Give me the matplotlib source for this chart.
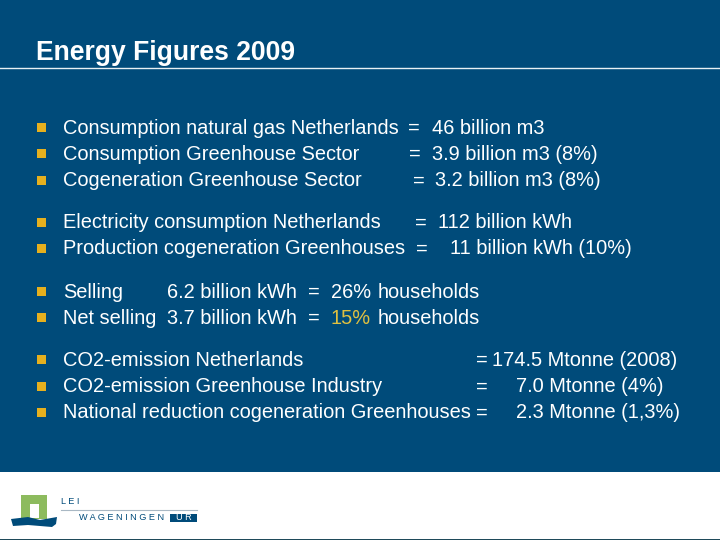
import matplotlib
matplotlib.use("Agg")
import matplotlib.pyplot as plt
from matplotlib.patches import Rectangle, Polygon

plt.rcParams['font.family'] = ['Liberation Sans', 'DejaVu Sans']

TITLE = "Energy Figures 2009"
LINES = [
    [("Consumption natural gas Netherlands", 63), ("=", 408), ("46 billion m3", 432)],
    [("Consumption Greenhouse Sector", 63), ("=", 409), ("3.9 billion m3 (8%)", 432)],
    [("Cogeneration Greenhouse Sector", 63), ("=", 413), ("3.2 billion m3 (8%)", 435)],
    [("Electricity consumption Netherlands", 63), ("=", 415), ("112 billion kWh", 438)],
    [("Production cogeneration Greenhouses", 63), ("=", 416), ("11 billion kWh (10%)", 450)],
    [("Selling", 63), ("6.2 billion kWh", 167), ("=", 308), ("26%", 331), ("households", 378)],
    [("Net selling", 63), ("3.7 billion kWh", 167), ("=", 308), ("15%", 331), ("households", 378)],
    [("CO2-emission Netherlands", 63), ("=", 476), ("174.5 Mtonne (2008)", 492)],
    [("CO2-emission Greenhouse Industry", 63), ("=", 476), ("7.0 Mtonne (4%)", 516)],
    [("National reduction cogeneration Greenhouses", 63), ("=", 476), ("2.3 Mtonne (1,3%)", 516)],
]
LINE_Y = [127, 153, 180, 222, 248, 291, 317, 359, 386, 412]
HIGHLIGHT = "15%"
LOGO_TOP = "LEI"
LOGO_MID = "WAGENINGEN"
LOGO_UR = "UR"

NAVY = "#004b7a"
GOLD = "#e6b01e"
fig = plt.figure(figsize=(7.2, 5.4), dpi=100, facecolor="white")
ax = fig.add_axes([0, 0, 1, 1])
ax.set_xlim(0, 720)
ax.set_ylim(540, 0)
ax.axis("off")

ax.add_patch(Rectangle((0, 0), 720, 472, fc=NAVY, ec="none"))
ax.plot([0, 720], [67.5, 67.5], color="#e8f0f4", lw=1)
ax.text(36, 53, TITLE, color="white", fontsize=19.1, fontweight="bold", va="center", ha="left")

for row, y in zip(LINES, LINE_Y):
    ax.add_patch(Rectangle((37, y - 4), 9, 9, fc=GOLD, ec="none"))
    for txt, x in row:
        col = "#e0c040" if txt == HIGHLIGHT else "white"
        ax.text(x, y + 1, txt, color=col, fontsize=14.4, va="center", ha="left")

# logo
ax.add_patch(Polygon([(21, 495), (47, 495), (47, 519), (21, 519)], fc="#8dbb5e", ec="none"))
ax.add_patch(Rectangle((30, 504), 9, 14, fc="white", ec="none"))
ax.add_patch(Polygon([(11, 519), (28, 517), (40, 520), (57, 517), (56, 524), (52, 527), (40, 526), (28, 525), (13, 526)],
                     fc=NAVY, ec="none"))
ax.plot([61, 197], [509.5, 509.5], color="#a9b8c4", lw=0.8)
ax.text(61, 502, " ".join(LOGO_TOP), color=NAVY, fontsize=6.6, va="center", ha="left")
ax.text(79, 518, " ".join(LOGO_MID), color=NAVY, fontsize=6.6, va="center", ha="left")
ax.add_patch(Rectangle((170, 514), 27, 8, fc=NAVY, ec="none"))
ax.text(183.5, 518, " ".join(LOGO_UR), color="white", fontsize=6.6, va="center", ha="center")
ax.add_patch(Rectangle((0, 538.5), 720, 1.5, fc="#1f4a5a", ec="none"))

fig.savefig("out.png", dpi=100, facecolor=fig.get_facecolor())
